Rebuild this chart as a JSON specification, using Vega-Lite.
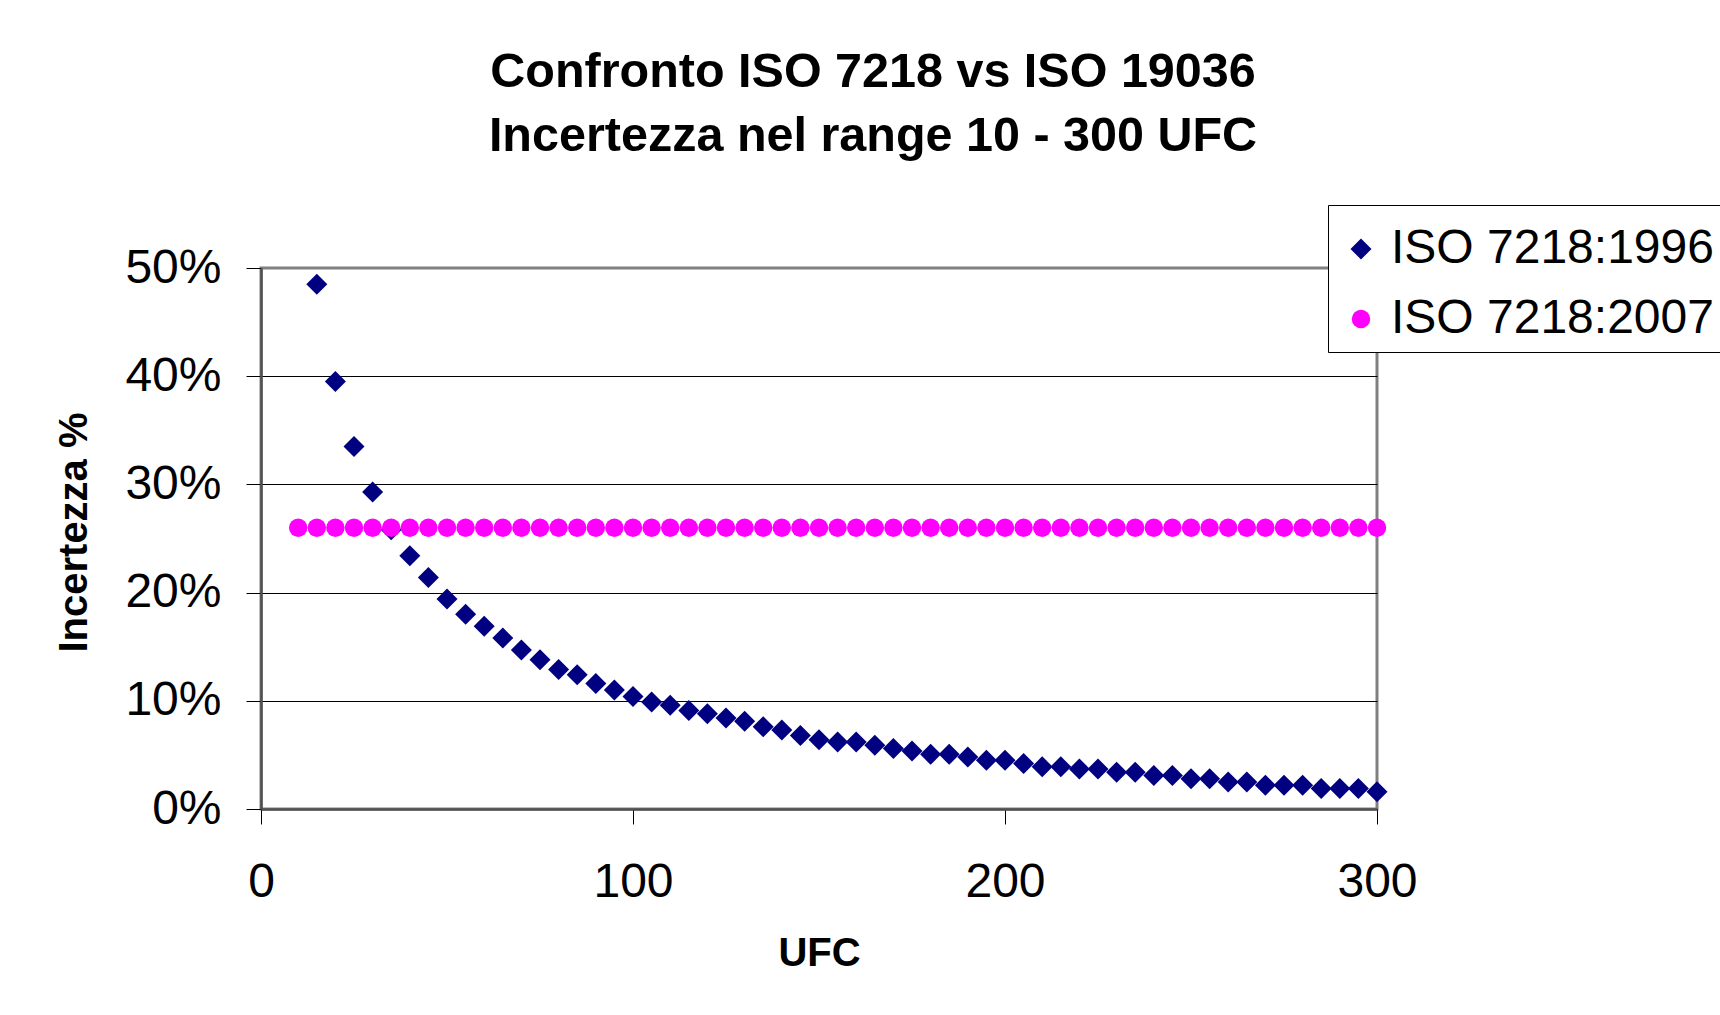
{
  "$schema": "https://vega.github.io/schema/vega-lite/v6.json",
  "width": 1116,
  "height": 541,
  "autosize": {"type": "none"},
  "padding": {"left": 261, "top": 268, "right": 343, "bottom": 206},
  "background": "white",
  "config": {
    "font": "Liberation Sans",
    "view": {"stroke": "#808080", "strokeWidth": 3}
  },
  "title": {
    "text": ["Confronto ISO 7218 vs ISO 19036", "Incertezza nel range 10 - 300 UFC"],
    "font": "Liberation Sans",
    "fontSize": 48.5,
    "fontWeight": "bold",
    "color": "black",
    "lineHeight": 63.6,
    "baseline": "alphabetic",
    "anchor": "middle",
    "frame": "group",
    "dx": 54,
    "offset": 5
  },
  "data": {
    "values": [
      {"x": 15, "y": 0.485, "serie": "ISO 7218:1996"},
      {"x": 20, "y": 0.395, "serie": "ISO 7218:1996"},
      {"x": 25, "y": 0.335, "serie": "ISO 7218:1996"},
      {"x": 30, "y": 0.293, "serie": "ISO 7218:1996"},
      {"x": 35, "y": 0.258, "serie": "ISO 7218:1996"},
      {"x": 40, "y": 0.234, "serie": "ISO 7218:1996"},
      {"x": 45, "y": 0.214, "serie": "ISO 7218:1996"},
      {"x": 50, "y": 0.194, "serie": "ISO 7218:1996"},
      {"x": 55, "y": 0.180, "serie": "ISO 7218:1996"},
      {"x": 60, "y": 0.169, "serie": "ISO 7218:1996"},
      {"x": 65, "y": 0.158, "serie": "ISO 7218:1996"},
      {"x": 70, "y": 0.147, "serie": "ISO 7218:1996"},
      {"x": 75, "y": 0.138, "serie": "ISO 7218:1996"},
      {"x": 80, "y": 0.129, "serie": "ISO 7218:1996"},
      {"x": 85, "y": 0.124, "serie": "ISO 7218:1996"},
      {"x": 90, "y": 0.116, "serie": "ISO 7218:1996"},
      {"x": 95, "y": 0.110, "serie": "ISO 7218:1996"},
      {"x": 100, "y": 0.104, "serie": "ISO 7218:1996"},
      {"x": 105, "y": 0.099, "serie": "ISO 7218:1996"},
      {"x": 110, "y": 0.096, "serie": "ISO 7218:1996"},
      {"x": 115, "y": 0.091, "serie": "ISO 7218:1996"},
      {"x": 120, "y": 0.088, "serie": "ISO 7218:1996"},
      {"x": 125, "y": 0.084, "serie": "ISO 7218:1996"},
      {"x": 130, "y": 0.081, "serie": "ISO 7218:1996"},
      {"x": 135, "y": 0.076, "serie": "ISO 7218:1996"},
      {"x": 140, "y": 0.073, "serie": "ISO 7218:1996"},
      {"x": 145, "y": 0.068, "serie": "ISO 7218:1996"},
      {"x": 150, "y": 0.064, "serie": "ISO 7218:1996"},
      {"x": 155, "y": 0.062, "serie": "ISO 7218:1996"},
      {"x": 160, "y": 0.062, "serie": "ISO 7218:1996"},
      {"x": 165, "y": 0.059, "serie": "ISO 7218:1996"},
      {"x": 170, "y": 0.056, "serie": "ISO 7218:1996"},
      {"x": 175, "y": 0.0535, "serie": "ISO 7218:1996"},
      {"x": 180, "y": 0.0505, "serie": "ISO 7218:1996"},
      {"x": 185, "y": 0.0505, "serie": "ISO 7218:1996"},
      {"x": 190, "y": 0.048, "serie": "ISO 7218:1996"},
      {"x": 195, "y": 0.045, "serie": "ISO 7218:1996"},
      {"x": 200, "y": 0.045, "serie": "ISO 7218:1996"},
      {"x": 205, "y": 0.042, "serie": "ISO 7218:1996"},
      {"x": 210, "y": 0.039, "serie": "ISO 7218:1996"},
      {"x": 215, "y": 0.039, "serie": "ISO 7218:1996"},
      {"x": 220, "y": 0.037, "serie": "ISO 7218:1996"},
      {"x": 225, "y": 0.037, "serie": "ISO 7218:1996"},
      {"x": 230, "y": 0.034, "serie": "ISO 7218:1996"},
      {"x": 235, "y": 0.034, "serie": "ISO 7218:1996"},
      {"x": 240, "y": 0.031, "serie": "ISO 7218:1996"},
      {"x": 245, "y": 0.031, "serie": "ISO 7218:1996"},
      {"x": 250, "y": 0.028, "serie": "ISO 7218:1996"},
      {"x": 255, "y": 0.028, "serie": "ISO 7218:1996"},
      {"x": 260, "y": 0.025, "serie": "ISO 7218:1996"},
      {"x": 265, "y": 0.025, "serie": "ISO 7218:1996"},
      {"x": 270, "y": 0.022, "serie": "ISO 7218:1996"},
      {"x": 275, "y": 0.022, "serie": "ISO 7218:1996"},
      {"x": 280, "y": 0.022, "serie": "ISO 7218:1996"},
      {"x": 285, "y": 0.019, "serie": "ISO 7218:1996"},
      {"x": 290, "y": 0.019, "serie": "ISO 7218:1996"},
      {"x": 295, "y": 0.019, "serie": "ISO 7218:1996"},
      {"x": 300, "y": 0.016, "serie": "ISO 7218:1996"},
      {"x": 10, "y": 0.26, "serie": "ISO 7218:2007"},
      {"x": 15, "y": 0.26, "serie": "ISO 7218:2007"},
      {"x": 20, "y": 0.26, "serie": "ISO 7218:2007"},
      {"x": 25, "y": 0.26, "serie": "ISO 7218:2007"},
      {"x": 30, "y": 0.26, "serie": "ISO 7218:2007"},
      {"x": 35, "y": 0.26, "serie": "ISO 7218:2007"},
      {"x": 40, "y": 0.26, "serie": "ISO 7218:2007"},
      {"x": 45, "y": 0.26, "serie": "ISO 7218:2007"},
      {"x": 50, "y": 0.26, "serie": "ISO 7218:2007"},
      {"x": 55, "y": 0.26, "serie": "ISO 7218:2007"},
      {"x": 60, "y": 0.26, "serie": "ISO 7218:2007"},
      {"x": 65, "y": 0.26, "serie": "ISO 7218:2007"},
      {"x": 70, "y": 0.26, "serie": "ISO 7218:2007"},
      {"x": 75, "y": 0.26, "serie": "ISO 7218:2007"},
      {"x": 80, "y": 0.26, "serie": "ISO 7218:2007"},
      {"x": 85, "y": 0.26, "serie": "ISO 7218:2007"},
      {"x": 90, "y": 0.26, "serie": "ISO 7218:2007"},
      {"x": 95, "y": 0.26, "serie": "ISO 7218:2007"},
      {"x": 100, "y": 0.26, "serie": "ISO 7218:2007"},
      {"x": 105, "y": 0.26, "serie": "ISO 7218:2007"},
      {"x": 110, "y": 0.26, "serie": "ISO 7218:2007"},
      {"x": 115, "y": 0.26, "serie": "ISO 7218:2007"},
      {"x": 120, "y": 0.26, "serie": "ISO 7218:2007"},
      {"x": 125, "y": 0.26, "serie": "ISO 7218:2007"},
      {"x": 130, "y": 0.26, "serie": "ISO 7218:2007"},
      {"x": 135, "y": 0.26, "serie": "ISO 7218:2007"},
      {"x": 140, "y": 0.26, "serie": "ISO 7218:2007"},
      {"x": 145, "y": 0.26, "serie": "ISO 7218:2007"},
      {"x": 150, "y": 0.26, "serie": "ISO 7218:2007"},
      {"x": 155, "y": 0.26, "serie": "ISO 7218:2007"},
      {"x": 160, "y": 0.26, "serie": "ISO 7218:2007"},
      {"x": 165, "y": 0.26, "serie": "ISO 7218:2007"},
      {"x": 170, "y": 0.26, "serie": "ISO 7218:2007"},
      {"x": 175, "y": 0.26, "serie": "ISO 7218:2007"},
      {"x": 180, "y": 0.26, "serie": "ISO 7218:2007"},
      {"x": 185, "y": 0.26, "serie": "ISO 7218:2007"},
      {"x": 190, "y": 0.26, "serie": "ISO 7218:2007"},
      {"x": 195, "y": 0.26, "serie": "ISO 7218:2007"},
      {"x": 200, "y": 0.26, "serie": "ISO 7218:2007"},
      {"x": 205, "y": 0.26, "serie": "ISO 7218:2007"},
      {"x": 210, "y": 0.26, "serie": "ISO 7218:2007"},
      {"x": 215, "y": 0.26, "serie": "ISO 7218:2007"},
      {"x": 220, "y": 0.26, "serie": "ISO 7218:2007"},
      {"x": 225, "y": 0.26, "serie": "ISO 7218:2007"},
      {"x": 230, "y": 0.26, "serie": "ISO 7218:2007"},
      {"x": 235, "y": 0.26, "serie": "ISO 7218:2007"},
      {"x": 240, "y": 0.26, "serie": "ISO 7218:2007"},
      {"x": 245, "y": 0.26, "serie": "ISO 7218:2007"},
      {"x": 250, "y": 0.26, "serie": "ISO 7218:2007"},
      {"x": 255, "y": 0.26, "serie": "ISO 7218:2007"},
      {"x": 260, "y": 0.26, "serie": "ISO 7218:2007"},
      {"x": 265, "y": 0.26, "serie": "ISO 7218:2007"},
      {"x": 270, "y": 0.26, "serie": "ISO 7218:2007"},
      {"x": 275, "y": 0.26, "serie": "ISO 7218:2007"},
      {"x": 280, "y": 0.26, "serie": "ISO 7218:2007"},
      {"x": 285, "y": 0.26, "serie": "ISO 7218:2007"},
      {"x": 290, "y": 0.26, "serie": "ISO 7218:2007"},
      {"x": 295, "y": 0.26, "serie": "ISO 7218:2007"},
      {"x": 300, "y": 0.26, "serie": "ISO 7218:2007"}
    ]
  },
  "mark": {"type": "point", "filled": true, "opacity": 1, "strokeWidth": 0},
  "encoding": {
    "x": {
      "field": "x",
      "type": "quantitative",
      "scale": {"domain": [0, 300], "nice": false, "zero": false},
      "axis": {
        "title": "UFC",
        "values": [0, 100, 200, 300],
        "grid": false,
        "labelFont": "Liberation Sans",
        "labelFontSize": 48,
        "labelColor": "black",
        "labelPadding": 34,
        "labelFlush": false,
        "tickSize": 15,
        "tickColor": "black",
        "tickWidth": 1,
        "domainColor": "#505050",
        "domainWidth": 2.5,
        "titleFont": "Liberation Sans",
        "titleFontSize": 40,
        "titleFontWeight": "bold",
        "titleColor": "black",
        "titleBaseline": "alphabetic",
        "titleY": 156
      }
    },
    "y": {
      "field": "y",
      "type": "quantitative",
      "scale": {"domain": [0, 0.5], "nice": false},
      "axis": {
        "title": "Incertezza %",
        "values": [0, 0.1, 0.2, 0.3, 0.4, 0.5],
        "format": ".0%",
        "grid": true,
        "gridColor": {"condition": {"test": "datum.value >= 0.5", "value": "#808080"}, "value": "black"},
        "gridWidth": 1,
        "labelFont": "Liberation Sans",
        "labelFontSize": 48,
        "labelColor": "black",
        "labelPadding": 25,
        "labelFlush": false,
        "tickSize": 15,
        "tickColor": "black",
        "tickWidth": 1,
        "domainColor": "#505050",
        "domainWidth": 2.5,
        "titleFont": "Liberation Sans",
        "titleFontSize": 40,
        "titleFontWeight": "bold",
        "titleColor": "black",
        "titleBaseline": "alphabetic",
        "titleAngle": -90,
        "titleX": -175,
        "titleY": 264
      }
    },
    "color": {
      "field": "serie",
      "type": "nominal",
      "scale": {"domain": ["ISO 7218:1996", "ISO 7218:2007"], "range": ["#000080", "#FF00FF"]},
      "legend": {
        "title": " ",
        "titleFontSize": 2,
        "titlePadding": 9,
        "orient": "none",
        "legendX": 1067,
        "legendY": -63,
        "labelFont": "Liberation Sans",
        "labelFontSize": 48,
        "labelColor": "black",
        "labelOffset": 6,
        "labelLimit": 600,
        "padding": 9,
        "rowPadding": 22,
        "strokeColor": "black",
        "fillColor": "white",
        "symbolStrokeWidth": 0,
        "symbolOpacity": 1
      }
    },
    "shape": {
      "field": "serie",
      "type": "nominal",
      "scale": {"domain": ["ISO 7218:1996", "ISO 7218:2007"], "range": ["diamond", "circle"]}
    },
    "size": {
      "field": "serie",
      "type": "nominal",
      "scale": {"domain": ["ISO 7218:1996", "ISO 7218:2007"], "range": [441, 342]}
    }
  }
}
